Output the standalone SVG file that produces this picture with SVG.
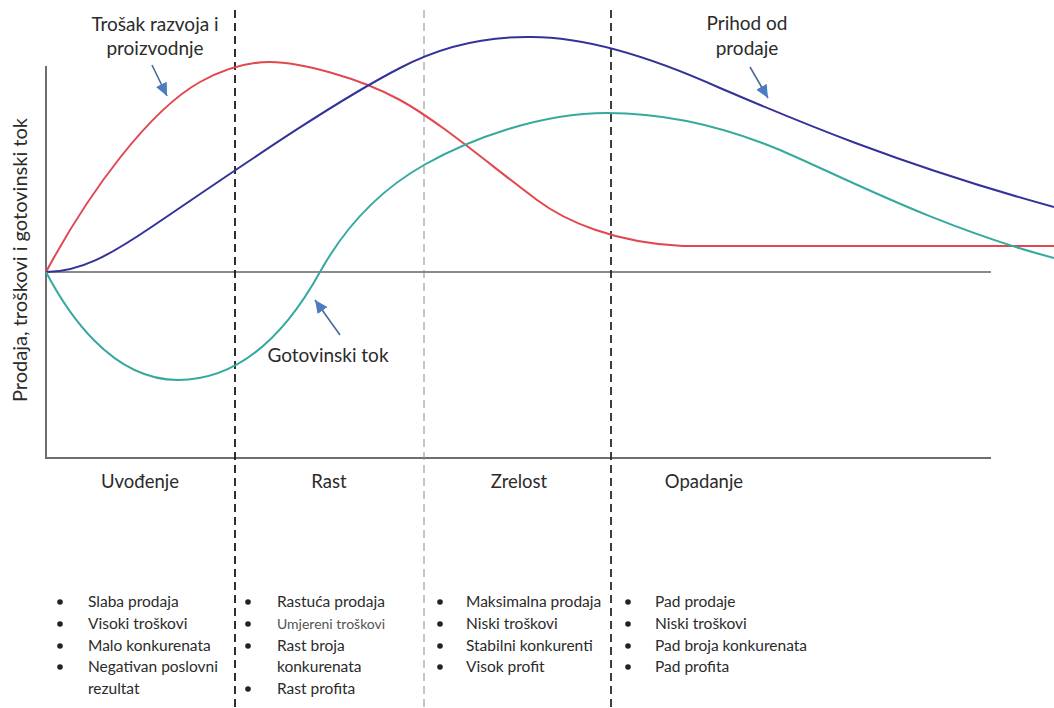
<svg xmlns="http://www.w3.org/2000/svg" width="1054" height="708" viewBox="0 0 1054 708">
<style>
text{font-family:Lato,"Liberation Sans",sans-serif;fill:#2b2b2b}
.lbl{font-size:19px}
.stage{font-size:18.5px;text-anchor:middle}
.item{font-size:15.5px}
.small{font-size:14px;fill:#555}
.curve{fill:none;stroke-width:2}
.axis{stroke:#6e6e6e;stroke-width:2;fill:none}
.zero{stroke:#8a8a8a;stroke-width:2;fill:none}
.dash{fill:none;stroke-dasharray:8 5}
.ptr{stroke:#4a6a9a;stroke-width:1.6;fill:none}
.dot{fill:#222}
</style>
<defs>
<marker id="ah" markerUnits="userSpaceOnUse" markerWidth="14" markerHeight="12" refX="13" refY="6" orient="auto">
<path d="M0,0 L13,6 L0,12 z" fill="#4b7bc0"/>
</marker>
</defs>
<rect width="1054" height="708" fill="#ffffff"/>

<g id="axes">
<line class="axis" x1="46" y1="66" x2="46" y2="458"/>
<line class="axis" x1="45" y1="458" x2="991" y2="458"/>
<line class="zero" x1="46" y1="272" x2="991" y2="272"/>
<text class="lbl" transform="translate(27,260) rotate(-90)" text-anchor="middle" textLength="284" lengthAdjust="spacingAndGlyphs">Prodaja, troškovi i gotovinski tok</text>
</g>

<g id="stage-dividers">
<line class="dash" x1="235" y1="10" x2="235" y2="708" stroke="#1a1a1a" stroke-width="1.8"/>
<line class="dash" x1="424" y1="10" x2="424" y2="708" stroke="#8c8c8c" stroke-width="1"/>
<line class="dash" x1="611" y1="10" x2="611" y2="708" stroke="#2a2a2a" stroke-width="1.8"/>
</g>

<g id="curves">
<path id="trosak" class="curve" stroke="#e2474f" d="M46,272 C90,190 150,110 200,82 C222,70 245,62 270,62 C300,62 360,78 400,100 C440,122 490,165 537,200 C565,221 615,243 683,246 L1054,246"/>
<path id="prihod" class="curve" stroke="#33329a" d="M46,272 C80,272 110,255 150,228 C230,174 330,104 400,68 C440,47 480,37 527,37 C575,36 640,52 720,88 C790,118 900,165 1054,207"/>
<path id="gotovinski" class="curve" stroke="#36a99f" d="M46,272 C66,310 110,380 178,380 C240,380 285,335 320,272 C345,227 380,190 424,165 C470,139 540,113 607,113 C660,113 720,125 780,150 C845,178 940,228 1054,258"/>
</g>

<g id="connectors">
<line class="ptr" x1="152" y1="65" x2="167" y2="96" marker-end="url(#ah)"/>
<line class="ptr" x1="750" y1="67" x2="768" y2="98" marker-end="url(#ah)"/>
<line class="ptr" x1="340" y1="335" x2="315" y2="300" marker-end="url(#ah)"/>
</g>

<g id="label-trosak">
<text class="lbl" x="155" y="31" text-anchor="middle">Trošak razvoja i</text>
<text class="lbl" x="155" y="55" text-anchor="middle">proizvodnje</text>
</g>
<g id="label-prihod">
<text class="lbl" x="747" y="30" text-anchor="middle">Prihod od</text>
<text class="lbl" x="747" y="55" text-anchor="middle">prodaje</text>
</g>
<g id="label-gotovinski">
<text class="lbl" x="328" y="362" text-anchor="middle">Gotovinski tok</text>
</g>

<g id="stage-uvodenje"><text class="stage" x="140" y="488">Uvođenje</text></g>
<g id="stage-rast"><text class="stage" x="329" y="488">Rast</text></g>
<g id="stage-zrelost"><text class="stage" x="519" y="488">Zrelost</text></g>
<g id="stage-opadanje"><text class="stage" x="704" y="488">Opadanje</text></g>

<g id="list-uvodenje">
<circle class="dot" cx="60" cy="602" r="2.8"/>
<circle class="dot" cx="60" cy="624" r="2.8"/>
<circle class="dot" cx="60" cy="646" r="2.8"/>
<circle class="dot" cx="60" cy="667" r="2.8"/>
<text class="item" x="88" y="607">Slaba prodaja</text>
<text class="item" x="88" y="629">Visoki troškovi</text>
<text class="item" x="88" y="651">Malo konkurenata</text>
<text class="item" x="88" y="672">Negativan poslovni</text>
<text class="item" x="88" y="694">rezultat</text>
</g>
<g id="list-rast">
<circle class="dot" cx="248" cy="602" r="2.8"/>
<circle class="dot" cx="248" cy="624" r="2.8"/>
<circle class="dot" cx="248" cy="646" r="2.8"/>
<circle class="dot" cx="248" cy="689" r="2.8"/>
<text class="item" x="277" y="607">Rastuća prodaja</text>
<text class="small" x="277" y="629">Umjereni troškovi</text>
<text class="item" x="277" y="651">Rast broja</text>
<text class="item" x="277" y="672">konkurenata</text>
<text class="item" x="277" y="694">Rast profita</text>
</g>
<g id="list-zrelost">
<circle class="dot" cx="440" cy="602" r="2.8"/>
<circle class="dot" cx="440" cy="624" r="2.8"/>
<circle class="dot" cx="440" cy="646" r="2.8"/>
<circle class="dot" cx="440" cy="667" r="2.8"/>
<text class="item" x="466" y="607">Maksimalna prodaja</text>
<text class="item" x="466" y="629">Niski troškovi</text>
<text class="item" x="466" y="651">Stabilni konkurenti</text>
<text class="item" x="466" y="672">Visok profit</text>
</g>
<g id="list-opadanje">
<circle class="dot" cx="628" cy="602" r="2.8"/>
<circle class="dot" cx="628" cy="624" r="2.8"/>
<circle class="dot" cx="628" cy="646" r="2.8"/>
<circle class="dot" cx="628" cy="667" r="2.8"/>
<text class="item" x="655" y="607">Pad prodaje</text>
<text class="item" x="655" y="629">Niski troškovi</text>
<text class="item" x="655" y="651">Pad broja konkurenata</text>
<text class="item" x="655" y="672">Pad profita</text>
</g>
</svg>
